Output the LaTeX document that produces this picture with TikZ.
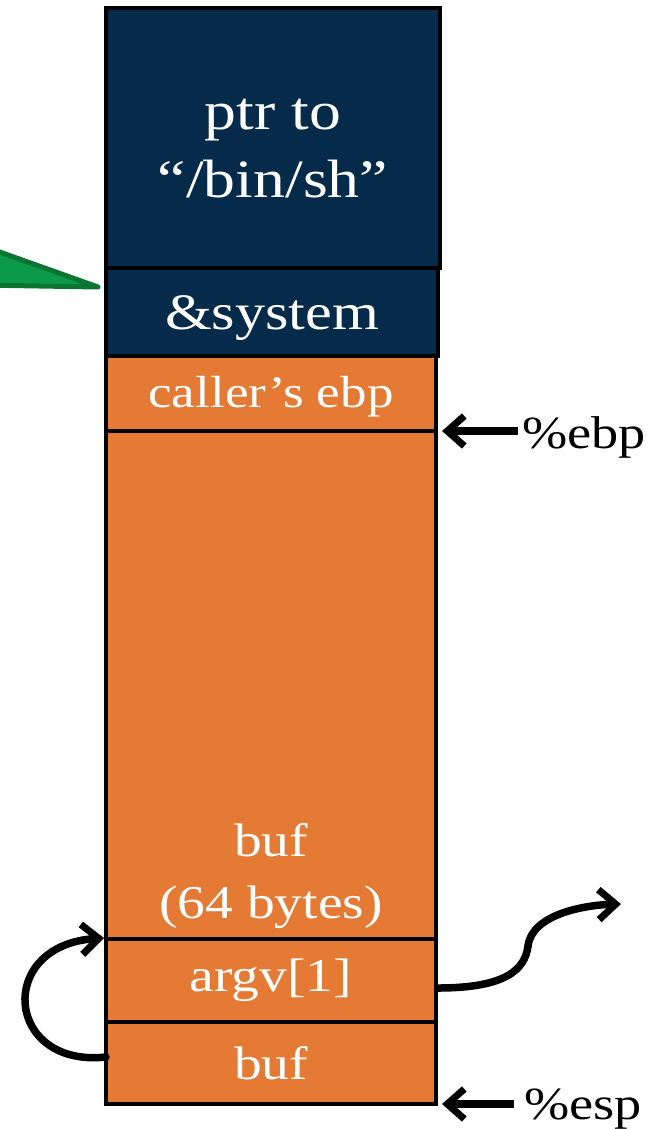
\documentclass[tikz,border=0pt]{standalone}
\usepackage{fontspec}
\setmainfont{Liberation Serif}[FakeStretch=1.18]
\usetikzlibrary{arrows.meta}
\definecolor{navy}{HTML}{062B4A}
\definecolor{stackorange}{HTML}{E47A33}
\definecolor{calloutgreen}{HTML}{0B9A49}
\definecolor{calloutedge}{HTML}{0A7433}
\tikzset{
  cell/.style={draw=black, line width=3.5pt, inner sep=0pt, outer sep=0pt, text=white, align=center},
  navycell/.style={cell, fill=navy},
  orangecell/.style={cell, fill=stackorange},
  barb/.style={-{Straight Barb[length=17pt,width=30pt,line width=7pt]}},
  ptrarrow/.style={line width=8pt, barb},
  flowcurve/.style={line width=7.5pt, line cap=round},
  lbl/.style={inner sep=0pt}
}
\begin{document}
\begin{tikzpicture}[x=1pt,y=-1pt]
\useasboundingbox (0,0) rectangle (665,1129);
% green callout tip
\filldraw[fill=calloutgreen, draw=calloutedge, line width=5pt, line join=round] (-20,245) -- (98,287) -- (-20,285) -- cycle;
% stack cells
\node[navycell, minimum width=334pt, minimum height=260pt] (ptr) at (273,138) {};
\node[text=white, align=center, font=\fontsize{54}{68}\selectfont] (ptrtxt) at (273,149) {ptr to\\``/bin/sh''};
\node[navycell, minimum width=332pt, minimum height=88pt] (sys) at (272,312) {};
\node[text=white, font=\fontsize{51}{60}\selectfont, inner sep=0pt] (systxt) at (272,318) {\&system};
\node[orangecell, minimum width=330pt, minimum height=75pt] (ebpcell) at (271,393.5) {};
\node[text=white, font=\fontsize{45}{52}\selectfont, inner sep=0pt] (ebpcelltxt) at (271,397) {caller’s ebp};
\node[orangecell, minimum width=330pt, minimum height=508pt] (bufbig) at (271,685) {};
\node[text=white, align=center, font=\fontsize{47}{62}\selectfont] (buftxt) at (271,876) {buf\\(64 bytes)};
\node[orangecell, minimum width=330pt, minimum height=83pt, font=\fontsize{47}{54}\selectfont] (argv) at (271,980.5) {argv[1]};
\node[orangecell, minimum width=330pt, minimum height=82pt, font=\fontsize{47}{54}\selectfont] (bufsmall) at (271,1063) {buf};
% register labels
\node[lbl, anchor=west, font=\fontsize{46}{52}\selectfont] (ebp) at (522,437) {\%ebp};
\node[lbl, anchor=west, font=\fontsize{46}{52}\selectfont] (esp) at (524,1109) {\%esp};
\coordinate (ebptip) at (442,431);
\coordinate (esptip) at (442,1104);
\draw[ptrarrow] (ebp.west) ++(-4,-6) -- (ebptip);
\draw[ptrarrow] (esp.west) ++(-10,-5) -- (esptip);
% curves
\coordinate (leftstart) at (106,1057);
\coordinate (lefttip) at (104,938);
\draw[flowcurve, barb] (leftstart) .. controls (5,1068) and (-5,945) .. (lefttip);
\coordinate (rightstart) at (438,988);
\coordinate (rightmid) at (528,946);
\coordinate (righttip) at (621,904);
\draw[flowcurve] (rightstart) .. controls (505,988) and (525,970) .. (rightmid);
\draw[flowcurve, barb] (rightmid) .. controls (532,914) and (585,905) .. (righttip);
\end{tikzpicture}
\end{document}
